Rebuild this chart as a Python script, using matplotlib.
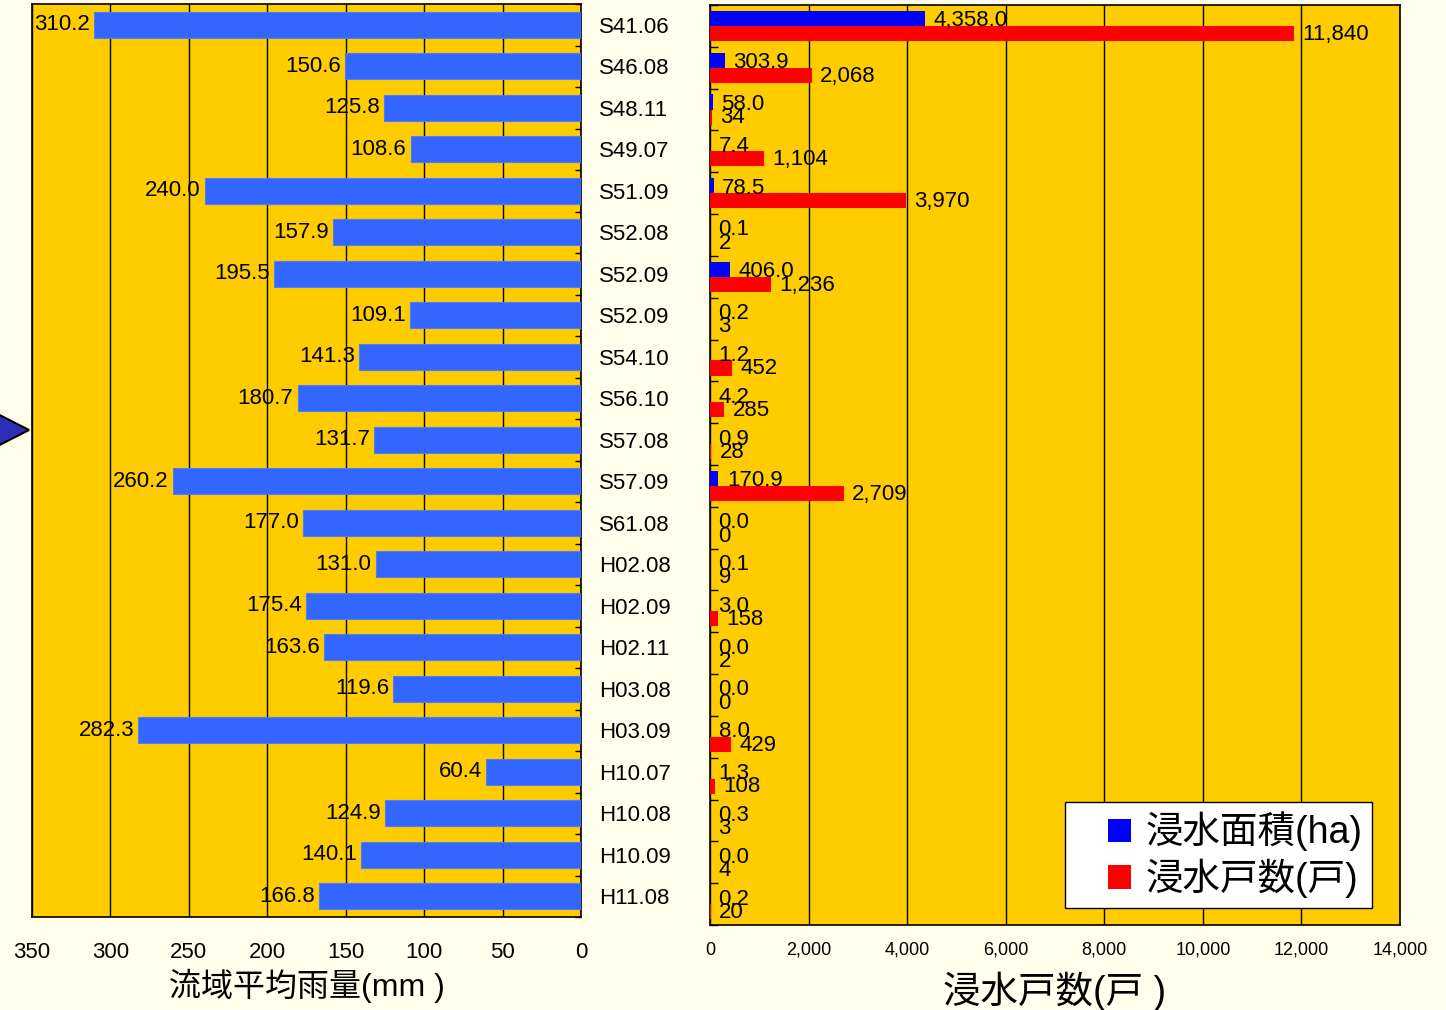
import numpy as np
import matplotlib
matplotlib.use("Agg")
import matplotlib.pyplot as plt
from matplotlib.patches import Patch, Polygon, Rectangle
from matplotlib.legend_handler import HandlerPatch
from matplotlib.ticker import FuncFormatter, MultipleLocator

plt.rcParams['font.family'] = ['Liberation Sans', 'Noto Sans CJK JP', 'DejaVu Sans']

# flood events (Showa / Heisei year.month)
events = ['S41.06', 'S46.08', 'S48.11', 'S49.07', 'S51.09', 'S52.08', 'S52.09',
          'S52.09', 'S54.10', 'S56.10', 'S57.08', 'S57.09', 'S61.08', 'H02.08',
          'H02.09', 'H02.11', 'H03.08', 'H03.09', 'H10.07', 'H10.08', 'H10.09',
          'H11.08']
rain_mm = [310.2, 150.6, 125.8, 108.6, 240.0, 157.9, 195.5, 109.1, 141.3, 180.7,
           131.7, 260.2, 177.0, 131.0, 175.4, 163.6, 119.6, 282.3, 60.4, 124.9,
           140.1, 166.8]
flood_area_ha = [4358.0, 303.9, 58.0, 7.4, 78.5, 0.1, 406.0, 0.2, 1.2, 4.2, 0.9,
                 170.9, 0.0, 0.1, 3.0, 0.0, 0.0, 8.0, 1.3, 0.3, 0.0, 0.2]
flood_houses = [11840, 2068, 34, 1104, 3970, 2, 1236, 3, 452, 285, 28, 2709, 0,
                9, 158, 2, 0, 429, 108, 3, 4, 20]

W, H = 1446, 1010
BG = '#FFFFEB'
PANEL = '#FFCC00'
RAIN_BLUE = '#3366FF'
AREA_BLUE = '#0000FF'
HOUSE_RED = '#FF0000'

fig = plt.figure(figsize=(W / 100, H / 100), dpi=100, facecolor=BG)

y = np.arange(len(events))

# ---- left panel: basin average rainfall ----
axl = fig.add_axes([32 / W, 1 - 917 / H, 549 / W, 913 / H], facecolor=PANEL)
axl.barh(y, rain_mm, height=0.63, color=RAIN_BLUE, edgecolor='#4d7aff',
         linewidth=0.8, zorder=3)
axl.set_xlim(350, 0)
axl.set_ylim(len(events) - 0.5, -0.5)
axl.xaxis.set_major_locator(MultipleLocator(50))
axl.grid(axis='x', color='black', linewidth=1.0, zorder=1)
axl.set_axisbelow(True)
for yi, v in zip(y, rain_mm):
    axl.annotate(f'{v:.1f}', (v, yi), xytext=(-3, 0), textcoords='offset points',
                 ha='right', va='center', fontsize=16, zorder=4)

axl.yaxis.tick_right()
axl.set_yticks(y)
axl.set_yticklabels(events, fontsize=16)
axl.tick_params(axis='y', which='major', length=0, pad=13)
axl.set_yticks(np.arange(len(events) + 1) - 0.5, minor=True)
axl.tick_params(axis='y', which='minor', direction='in', length=4, right=True,
                width=1)
axl.tick_params(axis='x', length=0, labelsize=16, pad=18)
axl.set_xlabel('流域平均雨量(mm )', fontsize=23, labelpad=4)
for s in axl.spines.values():
    s.set_linewidth(1.2)

# ---- right panel: flooded area and flooded houses ----
axr = fig.add_axes([710 / W, 1 - 925 / H, 690 / W, 920 / H], facecolor=PANEL)
bh = 0.36
axr.barh(y - bh / 2, flood_area_ha, height=bh, color=AREA_BLUE, zorder=3)
axr.barh(y + bh / 2, flood_houses, height=bh, color=HOUSE_RED, zorder=3)
axr.set_xlim(0, 14000)
axr.set_ylim(len(events) - 0.5, -0.5)
axr.xaxis.set_major_locator(MultipleLocator(2000))
axr.xaxis.set_major_formatter(FuncFormatter(lambda v, p: f'{v:,.0f}'))
axr.grid(axis='x', color='black', linewidth=1.0, zorder=1)
axr.set_axisbelow(True)
for yi, a, h in zip(y, flood_area_ha, flood_houses):
    axr.annotate(f'{a:,.1f}', (a, yi - 0.12), xytext=(6, 0),
                 textcoords='offset points', ha='left', va='center',
                 fontsize=16, zorder=4)
    axr.annotate(f'{h:,}', (h, yi + 0.2), xytext=(6, 0),
                 textcoords='offset points', ha='left', va='center',
                 fontsize=16, zorder=4)

axr.set_yticks([])
axr.set_yticks(np.arange(len(events) + 1) - 0.5, minor=True)
axr.tick_params(axis='y', which='minor', direction='in', length=6, width=1)
axr.tick_params(axis='y', which='minor', labelleft=False)
axr.tick_params(axis='x', length=0, labelsize=13, pad=12)
axr.set_xlabel('浸水戸数(戸 )', fontsize=27, labelpad=9)
for s in axr.spines.values():
    s.set_linewidth(1.2)


def square_at_right(legend, orig_handle, xdescent, ydescent, width, height,
                    fontsize):
    # small square pushed to the right end of the handle slot
    s = 0.62 * fontsize
    return Rectangle((width - s - xdescent, (height - s) / 2 - ydescent), s, s)


handles = [Patch(facecolor=AREA_BLUE, label='浸水面積(ha)'),
           Patch(facecolor=HOUSE_RED, label='浸水戸数(戸)')]
leg = axr.legend(handles=handles, loc='lower right',
                 bbox_to_anchor=(0.96, 0.019), fancybox=False, framealpha=1,
                 edgecolor='black', handlelength=1.5, handleheight=0.7,
                 handletextpad=0.4, borderpad=0.25, labelspacing=0.2,
                 borderaxespad=0, prop={'size': 27},
                 handler_map={Patch: HandlerPatch(patch_func=square_at_right)})
leg.get_frame().set_linewidth(1.0)

# navigation arrow on the left margin
arrow = Polygon([(-30 / W, 1 - 400 / H), (29 / W, 1 - 430 / H),
                 (-30 / W, 1 - 460 / H)], closed=True, transform=fig.transFigure,
                facecolor='#2E2EB8', edgecolor='black', linewidth=1.5)
fig.patches.append(arrow)

fig.savefig('out.png', dpi=100, facecolor=BG)
